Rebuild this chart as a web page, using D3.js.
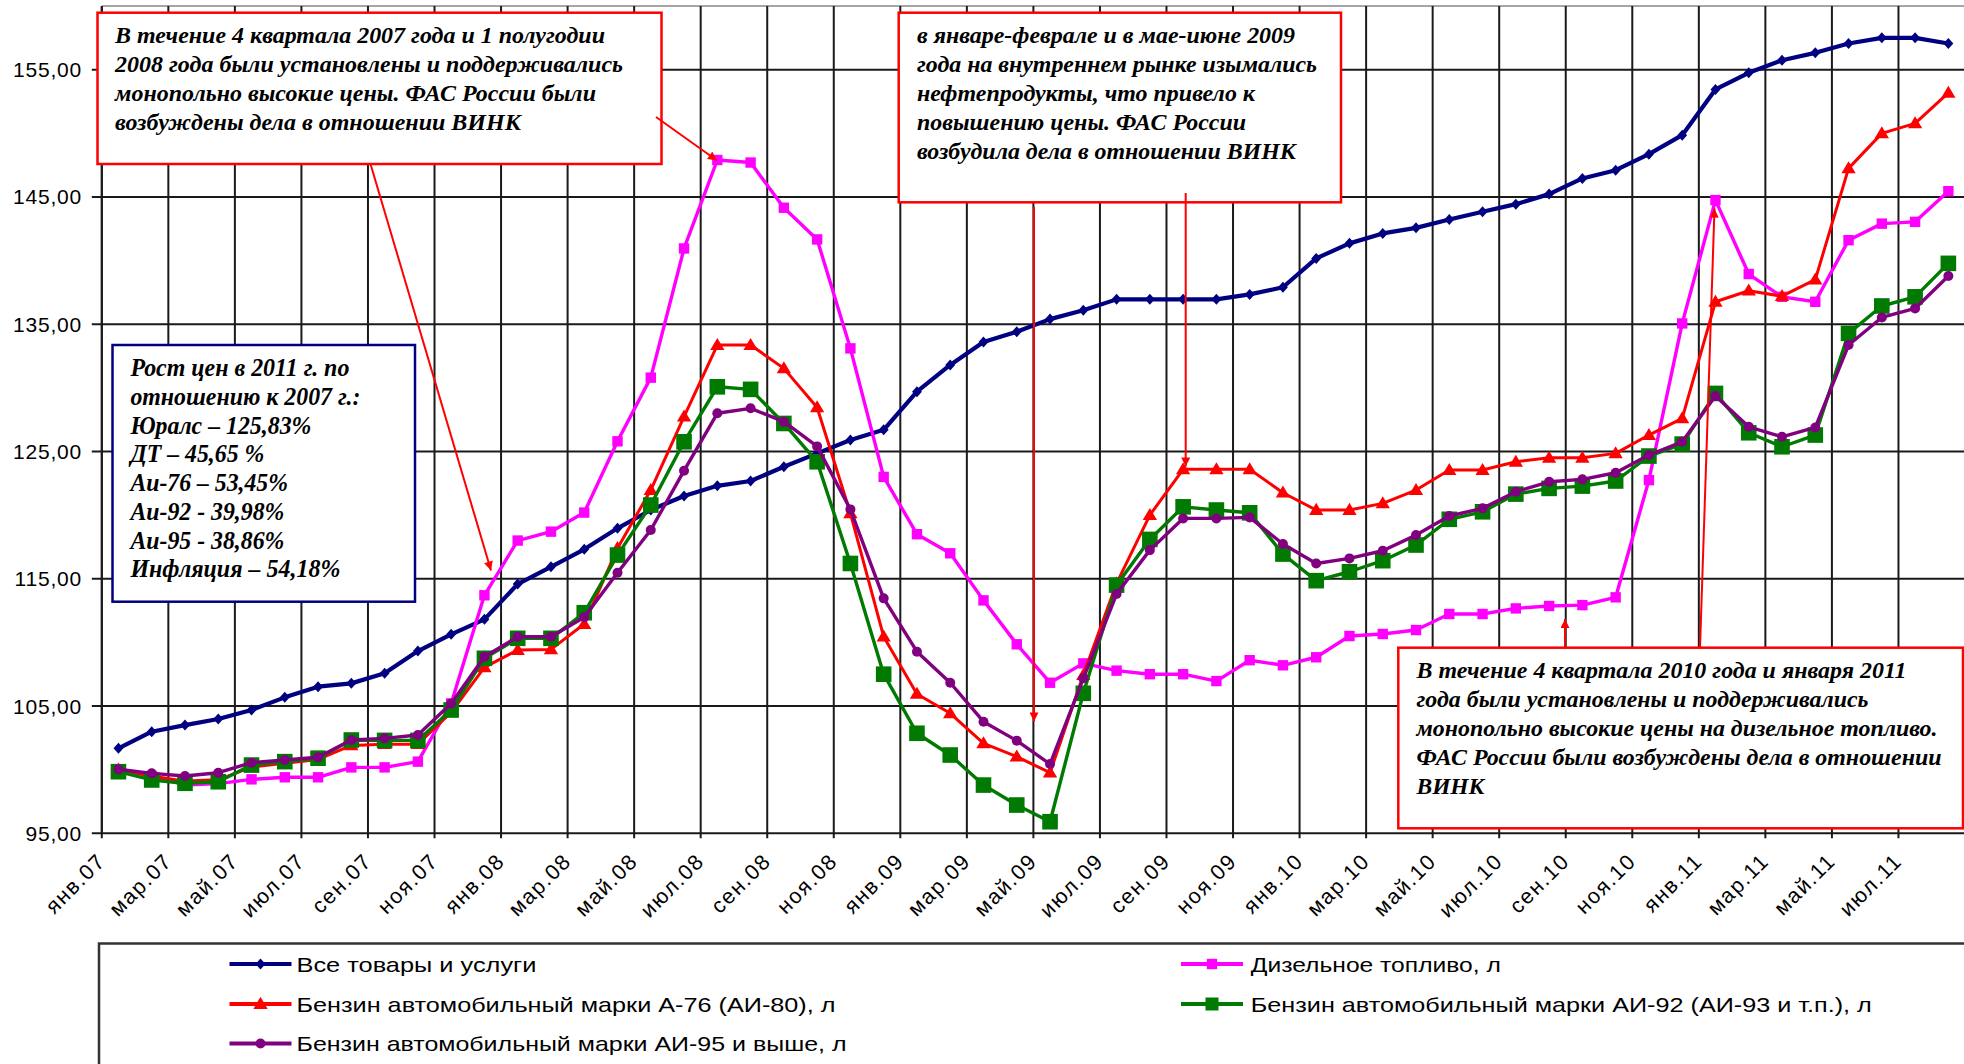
<!DOCTYPE html>
<html><head><meta charset="utf-8">
<script src="https://cdn.jsdelivr.net/npm/d3@7"></script>
<style>body{margin:0;background:#fff}svg{display:block}</style>
</head><body>
<svg id="c" width="1964" height="1064"></svg>
<script>
const categories = ["янв.07","фев.07","мар.07","апр.07","май.07","июн.07","июл.07","авг.07","сен.07","окт.07","ноя.07","дек.07",
"янв.08","фев.08","мар.08","апр.08","май.08","июн.08","июл.08","авг.08","сен.08","окт.08","ноя.08","дек.08",
"янв.09","фев.09","мар.09","апр.09","май.09","июн.09","июл.09","авг.09","сен.09","окт.09","ноя.09","дек.09",
"янв.10","фев.10","мар.10","апр.10","май.10","июн.10","июл.10","авг.10","сен.10","окт.10","ноя.10","дек.10",
"янв.11","фев.11","мар.11","апр.11","май.11","июн.11","июл.11","авг.11"];
const tickLabels = ["янв.07","мар.07","май.07","июл.07","сен.07","ноя.07","янв.08","мар.08","май.08","июл.08","сен.08","ноя.08",
"янв.09","мар.09","май.09","июл.09","сен.09","ноя.09","янв.10","мар.10","май.10","июл.10","сен.10","ноя.10","янв.11","мар.11","май.11","июл.11"];
const yTicks = [95,105,115,125,135,145,155];

const cpi = [101.68,102.98,103.5,103.98,104.69,105.68,106.52,106.78,107.57,109.32,110.63,111.81,
114.58,115.94,117.31,118.96,120.4,121.5,122.3,122.68,123.8,124.85,125.9,126.7,
129.7,131.8,133.6,134.4,135.4,136.1,136.95,136.95,136.95,136.95,137.34,137.9,
140.17,141.35,142.13,142.57,143.23,143.83,144.43,145.22,146.45,147.1,148.36,149.85,
153.44,154.75,155.74,156.32,157.05,157.5,157.5,157.05];
const diesel = [100.0,99.5,98.8,98.9,99.24,99.4,99.4,100.18,100.18,100.63,105.2,113.7,
118.0,118.7,120.2,125.8,130.8,140.95,147.9,147.7,144.15,141.66,133.1,123.0,
118.5,117.0,113.3,109.85,106.83,108.35,107.78,107.5,107.5,106.96,108.6,108.2,
108.83,110.5,110.66,110.97,112.23,112.23,112.67,112.86,112.93,113.54,122.75,135.06,
144.75,138.94,137.15,136.76,141.6,142.9,143.04,145.45];
const a76 = [100.0,99.5,99.1,99.2,100.2,100.5,100.8,101.9,102.0,102.0,104.5,108.04,
109.4,109.45,111.44,117.4,121.97,127.73,133.36,133.36,131.53,128.46,120.14,110.45,
105.95,104.43,102.07,101.02,99.76,107.43,114.64,120.0,123.6,123.6,123.6,121.76,
120.4,120.4,120.92,121.97,123.54,123.54,124.19,124.5,124.5,124.85,126.29,127.6,
136.76,137.63,137.2,138.5,147.24,149.99,150.78,153.18];
const ai92 = [99.84,99.19,98.93,99.05,100.36,100.63,100.9,102.33,102.3,102.3,104.69,108.75,
110.32,110.32,112.33,116.86,120.79,125.76,130.08,129.88,127.2,124.19,116.2,107.5,
102.86,101.15,98.79,97.22,95.91,106.0,114.5,118.09,120.65,120.4,120.18,116.94,
114.85,115.55,116.42,117.65,119.67,120.26,121.65,122.1,122.28,122.68,124.64,125.58,
129.56,126.47,125.37,126.29,134.28,136.43,137.15,139.78];
const ai95 = [100.03,99.71,99.5,99.76,100.55,100.76,100.97,102.33,102.46,102.72,105.2,108.87,
110.44,110.44,111.97,115.47,118.83,123.49,128.0,128.39,127.34,125.4,120.45,113.46,
109.27,106.83,103.77,102.28,100.44,107.18,113.8,117.25,119.74,119.74,119.82,117.73,
116.2,116.6,117.2,118.43,119.93,120.53,121.84,122.62,122.81,123.33,124.72,125.76,
129.35,126.94,126.15,126.89,133.36,135.53,136.24,138.78];

const seriesNames = ["Все товары и услуги","Дизельное топливо, л","Бензин автомобильный марки А-76 (АИ-80), л",
"Бензин автомобильный марки АИ-92 (АИ-93 и т.п.), л","Бензин автомобильный марки АИ-95 и выше, л"];

const note1 = ["В течение 4 квартала 2007 года и 1 полугодии","2008 года были установлены и поддерживались","монопольно высокие цены. ФАС России были","возбуждены дела в отношении ВИНК"];
const note2 = ["в январе-феврале и в мае-июне 2009","года на внутреннем рынке изымались","нефтепродукты, что привело к","повышению цены. ФАС России","возбудила дела в отношении ВИНК"];
const note3 = ["В течение 4 квартала 2010 года и января 2011","года были установлены и поддерживались","монопольно высокие цены на дизельное топливо.","ФАС России были возбуждены дела в отношении","ВИНК"];
const note4 = ["Рост цен в 2011 г. по","отношению к 2007 г.:","Юралс – 125,83%","ДТ – 45,65 %","Аи-76 – 53,45%","Аи-92 - 39,98%","Аи-95 - 38,86%","Инфляция – 54,18%"];

const svg = d3.select("#c");
const L = 101.8, R = 1965, T = 6, B = 833.3;
const x = d3.scalePoint().domain(categories).range([L, R]).padding(0.5);
const step = x.step();
const y = d3.scaleLinear().domain([95, 160]).range([B, T]);

// grid
const g = svg.append("g");
g.append("line").attr("x1", L).attr("x2", R).attr("y1", T).attr("y2", T).attr("stroke", "#888").attr("stroke-width", 1.5);
yTicks.forEach(v => {
  g.append("line").attr("x1", L - 10).attr("x2", R).attr("y1", y(v)).attr("y2", y(v)).attr("stroke", "#1a1a1a").attr("stroke-width", 2);
  g.append("text").attr("x", 82).attr("y", y(v) + 7.5).attr("text-anchor", "end")
    .attr("font-family", "Liberation Sans, Arial, sans-serif").attr("font-size", 21).attr("letter-spacing", 0.8)
    .attr("fill", "#000")
    .text(d3.format(".2f")(v).replace(".", ","));
});
tickLabels.forEach(lbl => {
  const xx = x(lbl) - step / 2;
  g.append("line").attr("x1", xx).attr("x2", xx).attr("y1", T).attr("y2", B + 5).attr("stroke", "#1a1a1a").attr("stroke-width", 2);
  g.append("text").attr("transform", `translate(${xx + 5},${B + 29}) rotate(-45)`).attr("text-anchor", "end")
    .attr("font-family", "Liberation Sans, Arial, sans-serif").attr("font-size", 21.5).attr("letter-spacing", 1.6)
    .attr("fill", "#000").text(lbl);
});
g.append("line").attr("x1", L).attr("x2", L).attr("y1", T).attr("y2", B).attr("stroke", "#1a1a1a").attr("stroke-width", 2);

// series
const shapes = {
  diamond: s => `M0,${-s}L${s*0.9},0L0,${s}L${-s*0.9},0Z`,
  square: s => `M${-s},${-s}H${s}V${s}H${-s}Z`,
  triangle: s => `M0,${-s*1.1}L${s*1.1},${s*0.75}L${-s*1.1},${s*0.75}Z`,
  circle: s => d3.symbol(d3.symbolCircle, Math.PI * s * s)()
};
const series = [
  {name: seriesNames[0], values: cpi, color: "#000080", w: 4.2, shape: "diamond", size: 5.5},
  {name: seriesNames[1], values: diesel, color: "#FF00FF", w: 3.4, shape: "square", size: 5.2},
  {name: seriesNames[2], values: a76, color: "#FF0000", w: 3, shape: "triangle", size: 6.5},
  {name: seriesNames[3], values: ai92, color: "#007A00", w: 3.4, shape: "square", size: 7.8},
  {name: seriesNames[4], values: ai95, color: "#800080", w: 3.4, shape: "circle", size: 5}
];
const line = d3.line().x((d, i) => x(categories[i])).y(d => y(d));
series.forEach(s => {
  const sg = svg.append("g");
  sg.append("path").attr("d", line(s.values)).attr("fill", "none").attr("stroke", s.color).attr("stroke-width", s.w).attr("stroke-linejoin", "round");
  sg.selectAll("path.m").data(s.values).join("path").attr("class", "m")
    .attr("transform", (d, i) => `translate(${x(categories[i])},${y(d)})`)
    .attr("d", shapes[s.shape](s.size)).attr("fill", s.color);
});

// annotations
const defs = svg.append("defs");
defs.append("marker").attr("id", "ah").attr("viewBox", "0 0 10 10").attr("refX", 10).attr("refY", 5)
  .attr("markerWidth", 11).attr("markerHeight", 9).attr("markerUnits", "userSpaceOnUse").attr("orient", "auto")
  .append("path").attr("d", "M0,0L10,5L0,10Z").attr("fill", "#FF0000");

function box(x0, y0, w, h, color, lines, tx, by, lh, widths, fs) {
  svg.append("rect").attr("x", x0).attr("y", y0).attr("width", w).attr("height", h)
    .attr("fill", "#fff").attr("stroke", color).attr("stroke-width", 2.5);
  lines.forEach((t, k) => {
    svg.append("text").attr("x", tx).attr("y", by + k * lh)
      .attr("font-family", "Liberation Serif, Times New Roman, serif").attr("font-weight", "bold").attr("font-style", "italic")
      .attr("font-size", fs).attr("textLength", widths[k]).attr("lengthAdjust", "spacingAndGlyphs").attr("fill", "#000").text(t);
  });
}
function arrow(x1, y1, x2, y2) {
  svg.append("line").attr("x1", x1).attr("y1", y1).attr("x2", x2).attr("y2", y2)
    .attr("stroke", "#FF0000").attr("stroke-width", 2).attr("marker-end", "url(#ah)");
}
box(97.5, 12.7, 564, 151.3, "#FF0000", note1, 115, 42.7, 29, [490, 508, 481, 406], 24);
box(898.7, 12.7, 442.3, 189.6, "#FF0000", note2, 917, 42.7, 29, [378, 400, 338, 329, 379], 24);
box(1398.3, 647.7, 564.7, 180.6, "#FF0000", note3, 1416.5, 678.3, 29, [490, 452, 521, 525, 68], 24);
box(112.5, 345, 302.5, 256.7, "#000080", note4, 130.4, 376, 28.75, [219, 230, 181, 134, 157.6, 154, 154, 210], 24.5);
arrow(656, 117, 717, 160.5);
arrow(370.5, 164, 491, 570.5);
arrow(1034, 207, 1034, 721.5);
arrow(1185.7, 193, 1185.7, 466.5);
arrow(1565, 648, 1565, 619);
arrow(1700, 648, 1714.5, 208.5);

// legend
svg.append("rect").attr("x", 99).attr("y", 943.5).attr("width", 1900).attr("height", 200)
  .attr("fill", "none").attr("stroke", "#333").attr("stroke-width", 2.5);
const legPos = [
  {x1: 229.5, y: 964, tx: 296.5, w: 240},
  {x1: 1181, y: 964, tx: 1250.8, w: 250},
  {x1: 229.5, y: 1004, tx: 296.5, w: 539},
  {x1: 1181, y: 1004, tx: 1250.8, w: 621},
  {x1: 229.5, y: 1043.5, tx: 296.5, w: 550}
];
series.forEach((s, k) => {
  const p = legPos[k];
  const lg = svg.append("g");
  lg.append("line").attr("x1", p.x1).attr("x2", p.x1 + 62).attr("y1", p.y).attr("y2", p.y)
    .attr("stroke", s.color).attr("stroke-width", 4);
  lg.append("path").attr("transform", `translate(${p.x1 + 31},${p.y})`).attr("d", shapes[s.shape](Math.min(s.size, 6.5))).attr("fill", s.color);
  lg.append("text").attr("x", p.tx).attr("y", p.y + 7.5).attr("font-family", "Liberation Sans, Arial, sans-serif")
    .attr("font-size", 21).attr("textLength", p.w).attr("lengthAdjust", "spacingAndGlyphs").attr("fill", "#000").text(s.name);
});
</script>
</body></html>
